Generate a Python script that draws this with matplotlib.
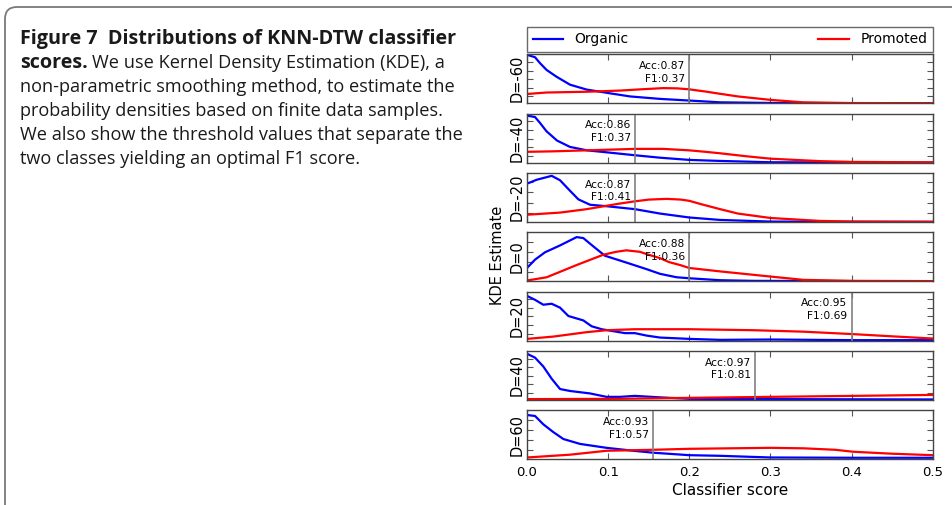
import numpy as np
import matplotlib
matplotlib.use('Agg')
import matplotlib.pyplot as plt
from matplotlib.patches import FancyBboxPatch
from matplotlib.transforms import IdentityTransform

# ---- data (y = KDE estimate, scaled to panel height) ----
delays = ['D=-60', 'D=-40', 'D=-20', 'D=0', 'D=20', 'D=40', 'D=60']

org_x = [
    [0, 0.0099, 0.016, 0.0242, 0.0366, 0.053, 0.0735, 0.098, 0.127, 0.164, 0.2, 0.238, 0.3, 0.4, 0.5],
    [0, 0.0099, 0.016, 0.024, 0.037, 0.053, 0.074, 0.098, 0.133, 0.164, 0.2, 0.238, 0.3, 0.4, 0.5],
    [0, 0.0119, 0.0304, 0.0407, 0.051, 0.0633, 0.0777, 0.098, 0.133, 0.164, 0.2, 0.238, 0.3, 0.4, 0.5],
    [0, 0.0099, 0.0222, 0.0407, 0.0612, 0.0694, 0.0818, 0.096, 0.1225, 0.1475, 0.164, 0.1845, 0.2,
     0.238, 0.279, 0.4, 0.5],
    [0, 0.0099, 0.0201, 0.0304, 0.0407, 0.051, 0.0694, 0.0797, 0.0921, 0.1064, 0.1208, 0.133, 0.1475,
     0.164, 0.2, 0.238, 0.3, 0.402, 0.5],
    [0, 0.0099, 0.0201, 0.0304, 0.0407, 0.053, 0.0777, 0.098, 0.1146, 0.133, 0.164, 0.2, 0.3, 0.5],
    [0, 0.0099, 0.0201, 0.0325, 0.0448, 0.0653, 0.098, 0.131, 0.1557, 0.2, 0.238, 0.3, 0.402, 0.5],
]
org_y = [
    [0.99, 0.94, 0.82, 0.68, 0.54, 0.38, 0.28, 0.215, 0.14, 0.09, 0.056, 0.02, 0.007, 0.002, 0.001],
    [0.96, 0.93, 0.81, 0.64, 0.45, 0.32, 0.25, 0.21, 0.15, 0.10, 0.055, 0.034, 0.007, 0.002, 0.001],
    [0.78, 0.86, 0.94, 0.85, 0.67, 0.46, 0.35, 0.32, 0.26, 0.17, 0.09, 0.04, 0.007, 0.002, 0.001],
    [0.27, 0.44, 0.59, 0.73, 0.90, 0.88, 0.71, 0.52, 0.38, 0.245, 0.15, 0.08, 0.06, 0.02, 0.007,
     0.002, 0.001],
    [0.91, 0.83, 0.73, 0.75, 0.67, 0.50, 0.41, 0.29, 0.23, 0.19, 0.15, 0.15, 0.10, 0.06, 0.033,
     0.013, 0.02, 0.007, 0.007],
    [0.94, 0.86, 0.68, 0.43, 0.22, 0.18, 0.13, 0.06, 0.06, 0.08, 0.05, 0.02, 0.014, 0.007],
    [0.90, 0.88, 0.71, 0.55, 0.41, 0.31, 0.23, 0.17, 0.13, 0.08, 0.067, 0.033, 0.027, 0.027],
]

pro_x = [
    [0, 0.024, 0.074, 0.115, 0.14, 0.168, 0.185, 0.2, 0.22, 0.238, 0.26, 0.3, 0.34, 0.4, 0.5],
    [0, 0.0325, 0.0735, 0.133, 0.168, 0.2, 0.22, 0.238, 0.27, 0.3, 0.361, 0.402, 0.5],
    [0, 0.0407, 0.0735, 0.1146, 0.133, 0.15, 0.172, 0.19, 0.2, 0.215, 0.238, 0.26, 0.3, 0.361,
     0.402, 0.5],
    [0, 0.0242, 0.0612, 0.094, 0.11, 0.1225, 0.139, 0.15, 0.164, 0.175, 0.1886, 0.2, 0.238, 0.3,
     0.341, 0.402, 0.5],
    [0, 0.0325, 0.0735, 0.098, 0.133, 0.2, 0.279, 0.341, 0.402, 0.45, 0.5],
    [0, 0.1146, 0.2, 0.3, 0.402, 0.5],
    [0, 0.053, 0.098, 0.1557, 0.2, 0.3, 0.341, 0.38, 0.402, 0.45, 0.5],
]
pro_y = [
    [0.19, 0.22, 0.236, 0.26, 0.285, 0.31, 0.305, 0.285, 0.24, 0.194, 0.14, 0.07, 0.02, 0.005, 0.002],
    [0.22, 0.23, 0.25, 0.28, 0.28, 0.25, 0.22, 0.19, 0.13, 0.08, 0.03, 0.014, 0.005],
    [0.146, 0.19, 0.26, 0.375, 0.42, 0.455, 0.47, 0.455, 0.43, 0.36, 0.26, 0.17, 0.08, 0.02,
     0.007, 0.002],
    [0.014, 0.08, 0.33, 0.54, 0.60, 0.63, 0.60, 0.54, 0.47, 0.39, 0.33, 0.27, 0.20, 0.095,
     0.027, 0.007, 0.002],
    [0.033, 0.08, 0.17, 0.21, 0.23, 0.23, 0.21, 0.18, 0.13, 0.085, 0.04],
    [0.014, 0.02, 0.04, 0.06, 0.08, 0.10],
    [0.033, 0.09, 0.17, 0.19, 0.21, 0.23, 0.22, 0.19, 0.15, 0.11, 0.08],
]

thresholds = [0.2, 0.133, 0.133, 0.2, 0.4, 0.281, 0.1557]
acc = [0.87, 0.86, 0.87, 0.88, 0.95, 0.97, 0.93]
f1 = [0.37, 0.37, 0.41, 0.36, 0.69, 0.81, 0.57]

caption = [
    'non-parametric smoothing method, to estimate the',
    'probability densities based on finite data samples.',
    'We also show the threshold values that separate the',
    'two classes yielding an optimal F1 score.',
]

W, H = 952, 505


def main():
    fig = plt.figure(figsize=(W / 100, H / 100), dpi=100)

    # rounded frame around the whole figure block
    frame = FancyBboxPatch((5, -20), 1000, H - 7 + 20, boxstyle='round,pad=0,rounding_size=12',
                           transform=IdentityTransform(), fc='none', ec='#7a7a7a', lw=1.3)
    fig.patches.append(frame)

    # caption on the left
    reg = dict(family='Open Sans', fontsize=13.1, color='#1a1a1a')
    bold = dict(family='Open Sans', fontsize=14.2, color='#1a1a1a', fontweight='bold')
    x0 = 20 / W
    fig.text(x0, 1 - 44 / H, 'Figure 7  Distributions of KNN-DTW classifier', **bold)
    t = fig.text(x0, 1 - 68 / H, 'scores.', **bold)
    fig.canvas.draw()
    bb = t.get_window_extent()
    fig.text((bb.x1 + 4) / W, 1 - 68 / H, 'We use Kernel Density Estimation (KDE), a', **reg)
    for i, line in enumerate(caption):
        fig.text(x0, 1 - (92 + 24 * i) / H, line, **reg)

    # panels
    left, right = 527 / W, 932.7 / W
    top0, step, height = 54.3, 59.3, 49
    axes = []
    for i in range(len(delays)):
        bottom = 1 - (top0 + step * i + height) / H
        ax = fig.add_axes([left, bottom, right - left, height / H])
        axes.append(ax)

    for i, ax in enumerate(axes):
        l1, = ax.plot(org_x[i], org_y[i], '-', c='#0000ff', lw=1.6, label='Organic')
        l2, = ax.plot(pro_x[i], pro_y[i], '-', c='#ff0000', lw=1.6, label='Promoted')
        ax.axvline(thresholds[i], c='#808080', lw=1.2)
        ax.annotate('Acc:{0:.2f}\nF1:{1:.2f}'.format(acc[i], f1[i]),
                    xy=(thresholds[i], 0.63), xycoords=('data', 'axes fraction'),
                    xytext=(-3, 0), textcoords='offset points',
                    ha='right', va='center', multialignment='right', fontsize=7.7,
                    linespacing=1.35)
        ax.set_xlim(0, 0.5)
        ax.set_ylim(0, 1)
        ax.set_xticks([0.0, 0.1, 0.2, 0.3, 0.4, 0.5])
        if i in (2, 3, 6):
            ax.set_yticks([0.19, 0.395, 0.6, 0.805])
        else:
            ax.set_yticks([0.14, 0.315, 0.49, 0.665, 0.84])
        ax.tick_params(direction='in', top=True, right=True, length=4, width=0.8,
                       color='#555555', labelleft=False, labelsize=9.5, pad=5)
        if i < len(delays) - 1:
            ax.tick_params(labelbottom=False)
        ax.set_ylabel(delays[i], fontsize=10.5, labelpad=2)
        for sp in ax.spines.values():
            sp.set_color('#444444')
            sp.set_linewidth(1.0)

    axes[-1].set_xlabel('Classifier score', fontsize=11, labelpad=3)
    fig.text(497 / W, 1 - 255 / H, 'KDE Estimate', rotation=90, ha='center', va='center', fontsize=10.5)

    leg = fig.legend([l1, l2], ['Organic', 'Promoted'], loc='lower left', ncol=2, mode='expand',
                     bbox_to_anchor=(left, 1 - 52 / H, right - left, 27 / H), borderaxespad=0,
                     fancybox=False, fontsize=10, handlelength=2.2, frameon=True)
    leg.get_frame().set_edgecolor('#444444')
    leg.get_frame().set_linewidth(1.0)

    plt.savefig('out.png', dpi=100)


if __name__ == '__main__':
    main()
